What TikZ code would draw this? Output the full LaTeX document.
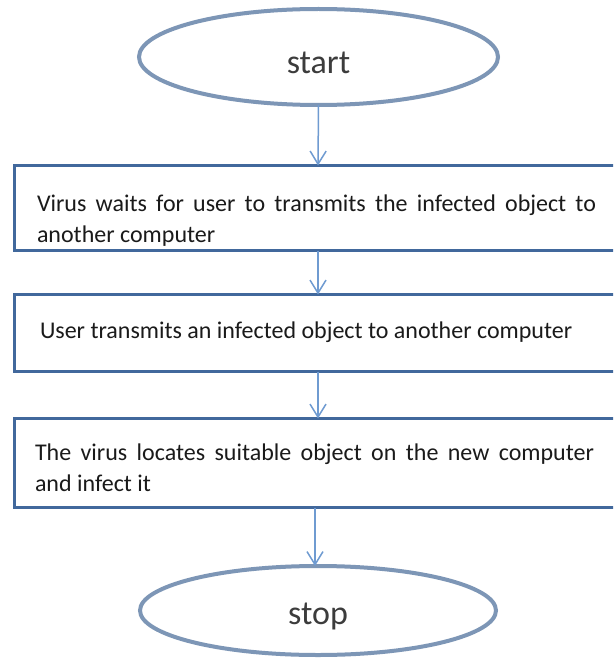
\documentclass[tikz,border=0pt]{standalone}
\usepackage{fontspec}
\setmainfont{Carlito}
\usetikzlibrary{shapes.geometric,arrows.meta}
\definecolor{ellcol}{HTML}{7D96B6}
\definecolor{boxcol}{HTML}{41689C}
\definecolor{arrcol}{HTML}{6F9BD1}
\definecolor{txtcol}{HTML}{1A1A1A}
\tikzset{
  term/.style={ellipse, draw=ellcol, line width=4pt, fill=white, inner sep=0pt, outer sep=0pt,
    text=txtcol!85, font=\fontsize{34}{40}\selectfont},
  stepbox/.style={rectangle, draw=boxcol, line width=3pt, fill=white, inner sep=0pt, outer sep=0pt,
    minimum width=720pt, anchor=north west},
  boxtext/.style={anchor=base west, inner sep=0pt, outer sep=0pt, text width=559pt, align=justify,
    text=txtcol, font=\fontsize{24}{31}\selectfont},
  flow/.style={draw=arrcol, line width=1.5pt, -{Straight Barb[length=13pt,width=16pt,line width=1.5pt]}}
}
\tolerance=10000
\hbadness=10000
\begin{document}
\begin{tikzpicture}[x=1pt,y=-1pt]
\useasboundingbox (0,0) rectangle (613,658);
\fill[white] (0,0) rectangle (613,658);
\clip (0,0) rectangle (613,658);
\coordinate (ax) at (318,0);
\coordinate (ax2) at (315,0);
\node[term, minimum width=359pt, minimum height=96pt] (start) at (318.5,57) {\raisebox{-6pt}[\height][\depth]{start}};
\node[stepbox, minimum height=85pt] (b1) at (14.5,165.5) {};
\node[stepbox, minimum height=77pt] (b2) at (14.5,294.5) {};
\node[stepbox, minimum height=89pt] (b3) at (14.5,418.5) {};
\node[term, minimum width=356pt, minimum height=89pt] (stop) at (318,610.5) {\raisebox{-6pt}[\height][\depth]{stop}};
\node[boxtext] (t1) at (37,211) {Virus waits for user to transmits the infected object to\linebreak another computer};
\node[boxtext] (t2) at (40,338) {User transmits an infected object to another computer};
\node[boxtext] (t3) at (35,460) {The virus locates suitable object on the new computer\linebreak and infect it};
\draw[flow] (start.south) -- (ax |- b1.north);
\draw[flow] (ax |- b1.south) -- (ax |- b2.north);
\draw[flow] (ax |- b2.south) -- (ax |- b3.north);
\draw[flow] (ax2 |- b3.south) -- (ax2 |- stop.north);
\end{tikzpicture}
\end{document}
